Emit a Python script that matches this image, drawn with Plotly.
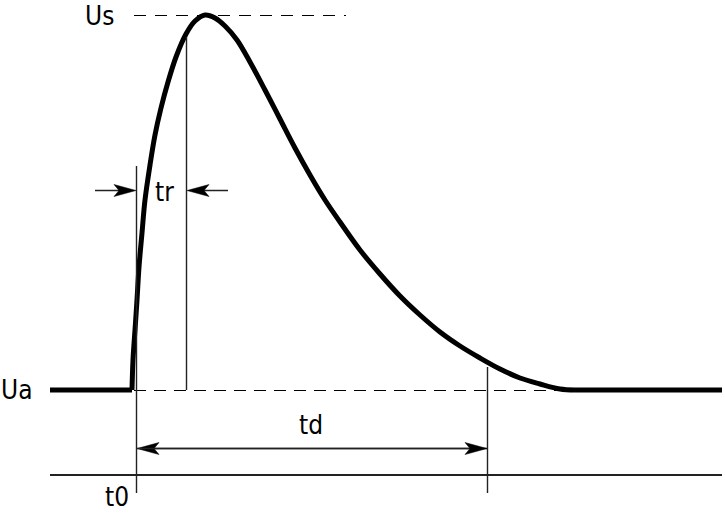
import plotly.graph_objects as go

# ---- data (diagram coordinates: x to the right, y downwards) ----
level_ua = 390
level_us = 15
baseline_x = [50, 132]
pulse_t = [132, 133, 135, 137, 139, 142, 145, 150, 155, 161, 168, 176, 186, 195, 205,
           215, 225, 237, 250, 265, 280, 295, 310, 325, 340, 360, 380, 400, 420, 440,
           460, 480, 500, 520, 540, 560, 575]
pulse_u = [390, 360, 330, 300, 267, 233, 200, 165, 135, 108, 82, 57, 34, 21, 15,
           18, 26, 40, 62, 90, 119, 148, 175, 200, 222, 250, 274, 296, 315, 332,
           346, 358, 369, 378, 384, 389, 390]
tail_x = [575, 722]

t0_x = 136
tr_x = 186
td_x = 487
axis_y = 475
axis_x = [50, 722]

labels = ["Us", "tr", "Ua", "td", "t0"]
label_x = [99, 164, 16, 311, 117]
label_y = [16, 192, 390, 425, 497]

FONT = "Liberation Sans Narrow, Arial Narrow, DejaVu Sans Condensed, sans-serif"
THIN = dict(color="#222", width=1.4)
H = 0.5  # half-pixel alignment for 1px lines

fig = go.Figure()

fig.add_trace(go.Scatter(x=baseline_x, y=[level_ua] * 2, mode="lines",
                         line=dict(color="black", width=5), hoverinfo="skip"))
fig.add_trace(go.Scatter(x=pulse_t, y=pulse_u, mode="lines",
                         line=dict(color="black", width=5, shape="spline", smoothing=1),
                         hoverinfo="skip"))
fig.add_trace(go.Scatter(x=tail_x, y=[level_ua] * 2, mode="lines",
                         line=dict(color="black", width=5), hoverinfo="skip"))

shapes = []
# dashed reference levels
shapes.append(dict(type="line", x0=134, x1=570, y0=level_ua + H, y1=level_ua + H,
                   line=dict(color="black", width=1, dash="12px,8px")))
shapes.append(dict(type="line", x0=134, x1=346, y0=level_us + H, y1=level_us + H,
                   line=dict(color="black", width=1, dash="12px,9px")))
# time axis
shapes.append(dict(type="line", x0=axis_x[0], x1=axis_x[1], y0=axis_y, y1=axis_y,
                   line=dict(color="#222", width=2)))
# verticals
shapes.append(dict(type="line", x0=t0_x + H, x1=t0_x + H, y0=166, y1=493, line=THIN))
shapes.append(dict(type="line", x0=tr_x + H, x1=tr_x + H, y0=37, y1=level_ua, line=THIN))
shapes.append(dict(type="line", x0=td_x + H, x1=td_x + H, y0=367, y1=493, line=THIN))

# arrows: (tail_x, tip_x, y)
arrows = [(95, t0_x, 190), (228, tr_x + 1, 190),
          (td_x, t0_x + 1, 448), (t0_x + 1, td_x, 448)]


def head_path(tip, y, direction, length=22, half=6, notch=5):
    b = tip - direction * length
    n = tip - direction * (length - notch)
    return f"M{tip},{y} L{b},{y - half} L{n},{y} L{b},{y + half} Z"


for tail, tip, y in arrows:
    d = 1 if tip > tail else -1
    shapes.append(dict(type="line", x0=tail, x1=tip - d * 8, y0=y + H, y1=y + H, line=THIN))
    shapes.append(dict(type="path", path=head_path(tip, y + H, d),
                       fillcolor="black", line=dict(color="black", width=0.5)))

fig.update_layout(shapes=shapes)

for txt, x, y in zip(labels, label_x, label_y):
    fig.add_annotation(x=x, y=y, text=txt, showarrow=False,
                       font=dict(family=FONT, size=26, color="black"),
                       xanchor="center", yanchor="middle")

fig.update_layout(
    width=725, height=514,
    margin=dict(l=0, r=0, t=0, b=0),
    paper_bgcolor="white", plot_bgcolor="white",
    showlegend=False,
    xaxis=dict(range=[0, 725], visible=False, fixedrange=True),
    yaxis=dict(range=[514, 0], visible=False, fixedrange=True),
)

fig.write_html("out.html", config={"displayModeBar": False},
               post_script="document.body.style.margin='0';document.body.style.overflow='hidden';")
